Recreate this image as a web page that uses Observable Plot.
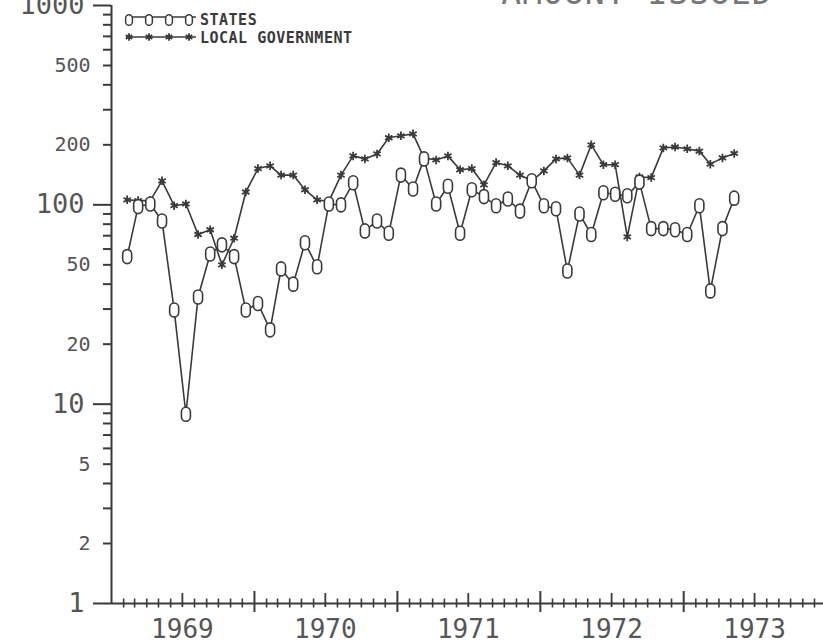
<!DOCTYPE html>
<html><head><meta charset="utf-8">
<script src="https://cdn.jsdelivr.net/npm/d3@7"></script>
<script src="https://cdn.jsdelivr.net/npm/@observablehq/plot@0.6"></script>
<style>
body{margin:0;background:#fff;}
#chart svg{display:block;overflow:visible;}
</style>
</head><body><div id="chart"></div>
<script>
// ---- data ----
const months = [
  "1969-02","1969-03","1969-04","1969-05","1969-06","1969-07","1969-08","1969-09","1969-10","1969-11","1969-12",
  "1970-01","1970-02","1970-03","1970-04","1970-05","1970-06","1970-07","1970-08","1970-09","1970-10","1970-11","1970-12",
  "1971-01","1971-02","1971-03","1971-04","1971-05","1971-06","1971-07","1971-08","1971-09","1971-10","1971-11","1971-12",
  "1972-01","1972-02","1972-03","1972-04","1972-05","1972-06","1972-07","1972-08","1972-09","1972-10","1972-11","1972-12",
  "1973-01","1973-02","1973-03","1973-04","1973-05"
];
const states = [55,98,101,83,29.7,8.9,34.5,56.7,63,55,29.7,32,23.6,47.7,40,64.5,48.9,101,100,129,74,83,72,141,120,170,101,124,72,119,110,99,107,93,132,99,95.5,46.6,90,71,115,113,111,130,76,76,75,71,99,37,76,108];
const localGov = [106,105,105,132,99,101,71,75,50,68,116,152,157,141,141,119,106,104,141,176,170,180,217,222,227,172,168,176,150,152,126,163,157,141,132,148,170,172,141,200,159,159,69,138,137,193,195,191,186,160,172,181];
const seriesNames = ["STATES", "LOCAL GOVERNMENT"];
const title = "AMOUNT ISSUED";
const yearLabels = [1969, 1970, 1971, 1972, 1973];
const decadeTicks = [1, 10, 100, 1000];
const minorTicks = [2,3,4,5,6,7,8,9,20,30,40,50,60,70,80,90,200,300,400,500,600,700,800,900];
const minorLabels = [2, 5, 20, 50, 200, 500];

// ---- build ----
const toDate = (s) => { const [y, m] = s.split("-").map(Number); return new Date(Date.UTC(y, m - 1, 10)); };
const data = months.map((m, i) => ({date: toDate(m), states: states[i], local: localGov[i]}));

const ink = "#3a3a3a";
const labelInk = "#555";
const font = "'DejaVu Sans Mono', monospace";
const W = 823, H = 643, mT = 5, mB = 40, mL = 111, mR = 0;
const frameH = H - mT - mB;

const xStart = new Date(Date.UTC(yearLabels[0], 0, 1));
const xEnd = new Date(Date.UTC(yearLabels[yearLabels.length - 1], 11, 24));
const allMonths = d3.utcMonth.range(new Date(Date.UTC(yearLabels[0], 1, 1)), new Date(Date.UTC(yearLabels[yearLabels.length - 1] + 1, 0, 1)));
const minorMonth = allMonths.filter(d => d.getUTCMonth() !== 0 && d.getUTCMonth() !== 6);
const midYears = yearLabels.map(y => new Date(Date.UTC(y, 6, 1)));
const yearStarts = yearLabels.slice(1).map(y => new Date(Date.UTC(y, 0, 1)));

const stadium = {
  draw(ctx) {
    const w = 4.5, h = 7;
    ctx.moveTo(w, -h + w);
    ctx.arc(0, -h + w, w, 0, Math.PI, true);
    ctx.lineTo(-w, h - w);
    ctx.arc(0, h - w, w, Math.PI, 0, true);
    ctx.closePath();
  }
};

const chart = Plot.plot({
  width: W, height: H,
  marginTop: mT, marginBottom: mB, marginLeft: mL, marginRight: mR,
  style: {fontFamily: font, background: "#fff", color: ink},
  x: {type: "utc", domain: [xStart, xEnd]},
  y: {type: "log", domain: [1, 1000]},
  marks: [
    // axes lines
    Plot.ruleY([1], {stroke: ink, strokeWidth: 2}),
    Plot.ruleX([xStart], {stroke: ink, strokeWidth: 2}),
    // y ticks
    Plot.axisY(decadeTicks, {tickSize: 18, tickFormat: () => "", stroke: ink, strokeWidth: 2, label: null}),
    Plot.axisY(minorTicks, {tickSize: 8, tickFormat: () => "", stroke: ink, strokeWidth: 2, label: null}),
    Plot.axisY(decadeTicks, {tickSize: 0, tickPadding: 27, fontSize: 27, fill: labelInk, tickFormat: d => String(d), label: null}),
    Plot.axisY(minorLabels, {tickSize: 0, tickPadding: 21, fontSize: 20, fill: labelInk, tickFormat: d => String(d), label: null}),
    // x ticks crossing the axis
    Plot.ruleX(minorMonth, {stroke: ink, strokeWidth: 1.6, insetTop: frameH - 9, dy: 4.5}),
    Plot.ruleX(midYears, {stroke: ink, strokeWidth: 1.8, insetTop: frameH - 14, dy: 4}),
    Plot.ruleX(yearStarts, {stroke: ink, strokeWidth: 2, insetTop: frameH - 21, dy: 9}),
    Plot.axisX(midYears, {tickSize: 0, tickPadding: 16, fontSize: 26, fill: labelInk, tickFormat: d => String(d.getUTCFullYear()), label: null}),
    // series
    Plot.line(data, {x: "date", y: "local", stroke: ink, strokeWidth: 1.6}),
    Plot.line(data, {x: "date", y: "states", stroke: ink, strokeWidth: 1.6}),
    Plot.dot(data, {x: "date", y: "local", symbol: "asterisk", r: 4, stroke: ink, strokeWidth: 1.8}),
    Plot.dot(data, {x: "date", y: "states", symbol: stadium, r: 4, stroke: ink, fill: "white", strokeWidth: 1.6})
  ]
});

const svg = d3.select(chart);
// title (clipped at page top as in the original)
svg.append("text")
  .attr("x", 637).attr("y", 4)
  .attr("text-anchor", "middle")
  .attr("font-family", font).attr("font-size", 33)
  .attr("letter-spacing", 1)
  .attr("fill", "#777")
  .text(title);

// legend
const lg = svg.append("g").attr("stroke", ink).attr("fill", "none");
const lx = [129, 149, 169, 189];
lg.append("line").attr("x1", 126).attr("x2", 196).attr("y1", 17).attr("y2", 17).attr("stroke-width", 1.6);
lx.forEach(x => {
  lg.append("path").attr("transform", `translate(${x},20) scale(0.75)`).attr("d", d3.symbol(stadium)()).attr("fill", "white").attr("stroke-width", 2);
});
lg.append("line").attr("x1", 126).attr("x2", 196).attr("y1", 37).attr("y2", 37).attr("stroke-width", 1.6);
lx.forEach(x => {
  lg.append("path").attr("transform", `translate(${x},37)`).attr("d", d3.symbol(d3.symbolAsterisk, 40)()).attr("stroke-width", 1.8);
});
const lt = svg.append("g").attr("font-family", font).attr("font-size", 15).attr("font-weight", "bold")
  .attr("fill", ink).attr("letter-spacing", 0.5).attr("text-anchor", "start");
lt.append("text").attr("x", 200).attr("y", 25).attr("text-anchor", "start").text(seriesNames[0]);
lt.append("text").attr("x", 200).attr("y", 43).attr("text-anchor", "start").text(seriesNames[1]);

document.getElementById("chart").appendChild(chart);
</script>
</body></html>
